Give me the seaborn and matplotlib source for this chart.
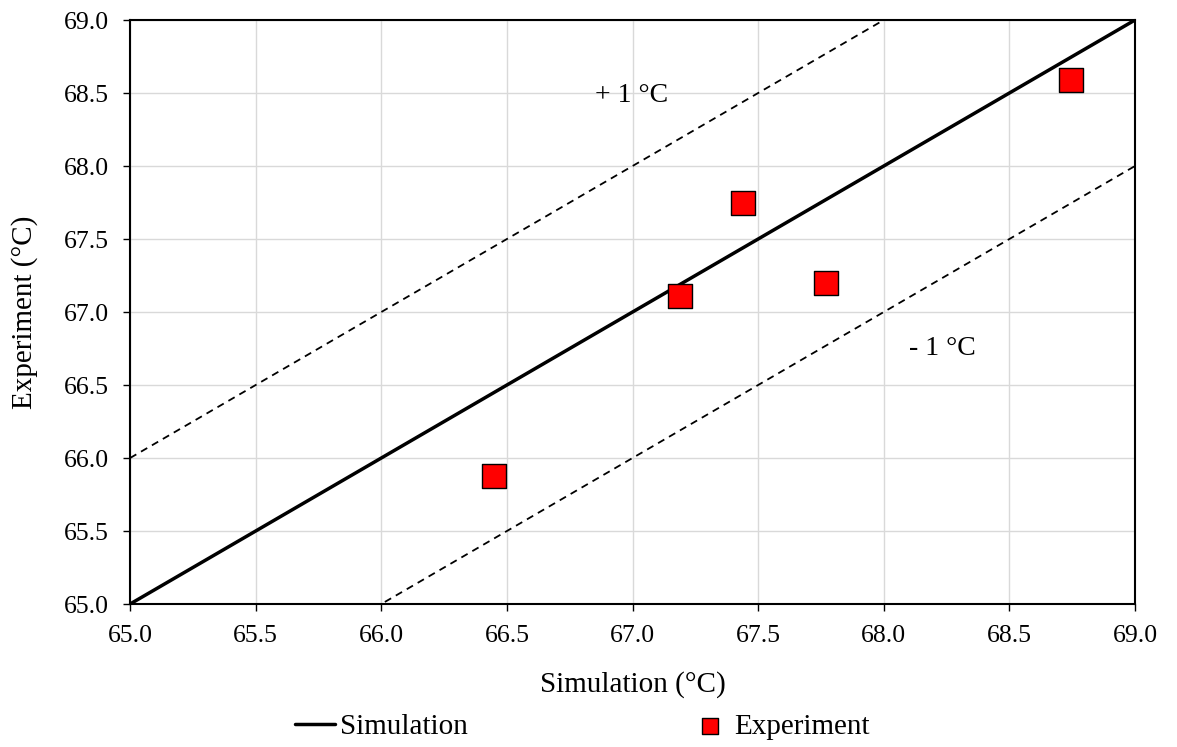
import numpy as np
import pandas as pd
import matplotlib
matplotlib.use('Agg')
import matplotlib.pyplot as plt
import seaborn as sns

# Data
sim = [66.45, 67.19, 67.44, 67.77, 68.745]
exp = [65.88, 67.11, 67.75, 67.20, 68.59]
line_x = [65.0, 69.0]
df = pd.DataFrame({'Simulation': sim, 'Experiment': exp})

sns.set_style('white')
plt.rcParams['font.family'] = ['Liberation Serif', 'DejaVu Serif']
plt.rcParams['text.color'] = 'black'
plt.rcParams['axes.labelcolor'] = 'black'
plt.rcParams['xtick.color'] = 'black'
plt.rcParams['ytick.color'] = 'black'

fig = plt.figure(figsize=(11.77, 7.47), dpi=100)
ax = fig.add_axes([0.1105, 0.1914, 0.8538, 0.7818])

ax.grid(True, color='#d9d9d9', linewidth=1)
ax.set_axisbelow(True)

# y = x line and +/- 1 degree bands
sns.lineplot(x=line_x, y=line_x, ax=ax, color='black', linewidth=2.5, label='Simulation', zorder=3)
ax.plot(line_x, [v + 1 for v in line_x], color='black', linestyle=(0, (4, 3)), linewidth=1.3, zorder=3)
ax.plot(line_x, [v - 1 for v in line_x], color='black', linestyle=(0, (4, 3)), linewidth=1.3, zorder=3)

sns.scatterplot(data=df, x='Simulation', y='Experiment', ax=ax, marker='s', s=280,
                color='#ff0000', edgecolor='black', linewidth=1, label='Experiment', zorder=4)

ax.text(66.85, 68.48, '+ 1 °C', fontsize=20, va='center')
ax.text(68.1, 66.75, '- 1 °C', fontsize=20, va='center')

ax.set_xlim(65, 69)
ax.set_ylim(65, 69)
ticks = np.arange(65.0, 69.01, 0.5)
ax.set_xticks(ticks)
ax.set_yticks(ticks)
ax.set_xticklabels([f'{t:.1f}' for t in ticks])
ax.set_yticklabels([f'{t:.1f}' for t in ticks])
ax.tick_params(axis='both', labelsize=18.5, direction='out', length=5, width=1, color='black',
               labelcolor='black', bottom=True, left=True, pad=10)
for sp in ax.spines.values():
    sp.set_color('black')
    sp.set_linewidth(1.5)

ax.set_xlabel('Simulation (°C)', fontsize=21)
ax.set_ylabel('Experiment (°C)', fontsize=21)
ax.xaxis.set_label_coords(0.5, -0.115)
ax.yaxis.set_label_coords(-0.0915, 0.5)

ax.legend(loc='center', bbox_to_anchor=(0.45, -0.21), ncol=2, frameon=False,
          fontsize=21, columnspacing=7.6, handlelength=1.4, handletextpad=0.15, markerscale=0.7)

fig.savefig('out.png', dpi=100)
